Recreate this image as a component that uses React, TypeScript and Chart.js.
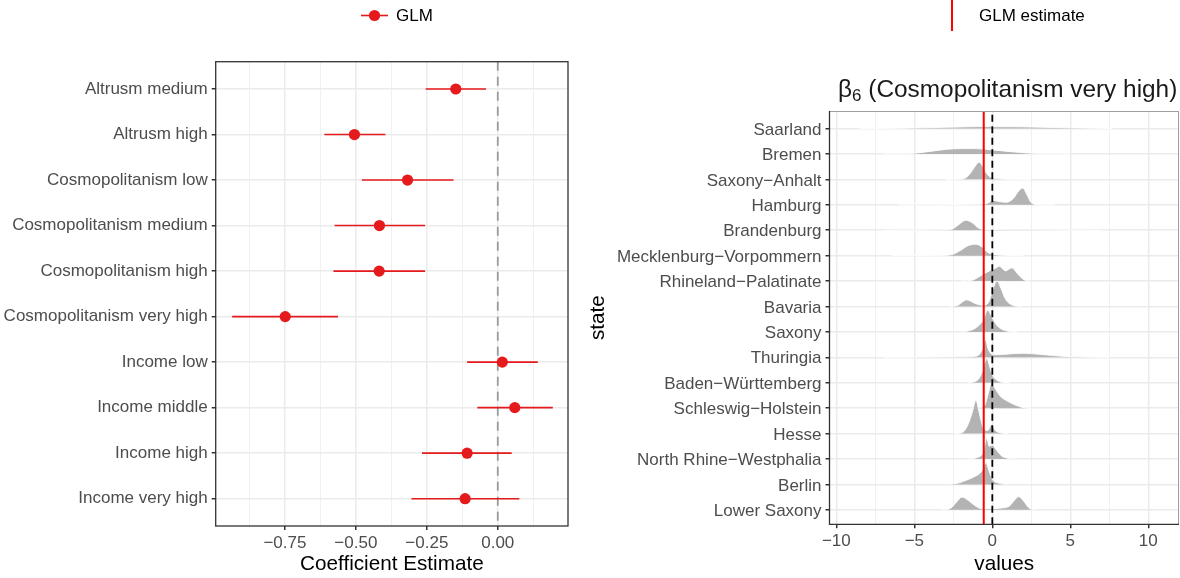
import React, { useEffect, useRef } from "react";
import { Chart, registerables } from "chart.js";
Chart.register(...registerables);

const FONT = "'Liberation Sans', Arial, Helvetica, sans-serif";
Chart.defaults.font.family = FONT;

// ---------- Left panel: GLM coefficients ----------
const terms = [
  "Altrusm medium",
  "Altrusm high",
  "Cosmopolitanism low",
  "Cosmopolitanism medium",
  "Cosmopolitanism high",
  "Cosmopolitanism very high",
  "Income low",
  "Income middle",
  "Income high",
  "Income very high",
];
const estimates = [-0.148, -0.505, -0.318, -0.417, -0.418, -0.749, 0.016, 0.06, -0.108, -0.115];
const ciLow = [-0.254, -0.611, -0.479, -0.575, -0.579, -0.936, -0.108, -0.072, -0.267, -0.304];
const ciHigh = [-0.041, -0.396, -0.156, -0.256, -0.256, -0.563, 0.141, 0.194, 0.049, 0.076];
const coefMajorTicks = [-0.75, -0.5, -0.25, 0];
const coefMinorTicks = [-0.875, -0.625, -0.375, -0.125, 0.125];
const coefMin = -0.994;
const coefMax = 0.2475;

// ---------- Right panel: posterior ridges per state ----------
const states = [
  "Saarland",
  "Bremen",
  "Saxony\u2212Anhalt",
  "Hamburg",
  "Brandenburg",
  "Mecklenburg\u2212Vorpommern",
  "Rhineland\u2212Palatinate",
  "Bavaria",
  "Saxony",
  "Thuringia",
  "Baden\u2212W\u00fcrttemberg",
  "Schleswig\u2212Holstein",
  "Hesse",
  "North Rhine\u2212Westphalia",
  "Berlin",
  "Lower Saxony",
];
// [value, height in row units]
const ridgeSaarland = [[-8.5, 0], [-6, 0.01], [-4.5, 0.03], [-3, 0.05], [-1.5, 0.07], [-0.5, 0.08], [0.5, 0.07], [1.5, 0.07], [2.5, 0.06], [4, 0.04], [5.5, 0.02], [7.7, 0]];
const ridgeBremen = [[-7, 0], [-6, 0.01], [-5, 0.03], [-4, 0.1], [-3, 0.18], [-2, 0.21], [-1, 0.21], [0, 0.16], [1, 0.1], [2.2, 0.04], [3.5, 0.01], [5, 0]];
const ridgeSaxonyAnhalt = [[-3, 0], [-2, 0.01], [-1.7, 0.06], [-1.4, 0.25], [-1.1, 0.52], [-0.85, 0.68], [-0.6, 0.5], [-0.35, 0.22], [-0.1, 0.08], [0.3, 0.03], [1, 0.005], [2.5, 0]];
const ridgeHamburg = [[-6, 0], [-3, 0.01], [-1, 0.02], [-0.3, 0.06], [0.05, 0.18], [0.4, 0.13], [0.9, 0.1], [1.35, 0.25], [1.7, 0.55], [1.95, 0.66], [2.2, 0.42], [2.5, 0.08], [2.9, 0.01], [4, 0]];
const ridgeBrandenburg = [[-7, 0], [-3.2, 0.01], [-2.6, 0.04], [-2.2, 0.2], [-1.7, 0.39], [-1.3, 0.3], [-0.9, 0.09], [-0.5, 0.03], [0.5, 0.02], [3, 0.01], [7, 0]];
const ridgeMecklenburg = [[-6.5, 0], [-3.2, 0.01], [-2.6, 0.04], [-2.0, 0.22], [-1.6, 0.38], [-1.1, 0.45], [-0.7, 0.36], [-0.3, 0.13], [0.1, 0.04], [0.9, 0.01], [2, 0]];
const ridgeRhineland = [[-2, 0], [-1.3, 0.03], [-0.9, 0.15], [-0.5, 0.3], [-0.1, 0.42], [0.2, 0.5], [0.45, 0.58], [0.85, 0.4], [1.25, 0.52], [1.6, 0.3], [2.0, 0.06], [2.4, 0]];
const ridgeBavaria = [[-2.7, 0], [-2.2, 0.05], [-1.65, 0.26], [-1.1, 0.12], [-0.6, 0.05], [-0.25, 0.15], [0.05, 0.7], [0.3, 1.0], [0.55, 0.72], [0.85, 0.28], [1.3, 0.05], [1.9, 0]];
const ridgeSaxony = [[-2, 0], [-1.5, 0.04], [-1.0, 0.18], [-0.6, 0.45], [-0.3, 0.85], [0, 0.55], [0.3, 0.25], [0.7, 0.08], [1.2, 0.01], [1.6, 0]];
const ridgeThuringia = [[-7, 0], [-4, 0.01], [-2, 0.02], [-1, 0.05], [-0.65, 0.3], [-0.45, 0.7], [-0.25, 0.3], [0.1, 0.1], [0.6, 0.11], [1.2, 0.14], [2, 0.16], [3, 0.12], [4.5, 0.04], [6, 0.01], [7.5, 0]];
const ridgeBadenWuerttemberg = [[-1.6, 0], [-1.0, 0.08], [-0.7, 0.35], [-0.45, 0.85], [-0.35, 0.96], [-0.2, 0.7], [0, 0.3], [0.3, 0.1], [0.6, 0.02], [1.1, 0]];
const ridgeSchleswigHolstein = [[-1, 0], [-0.5, 0.1], [-0.25, 0.6], [-0.05, 1.0], [0.2, 0.75], [0.5, 0.48], [0.9, 0.3], [1.3, 0.17], [1.7, 0.07], [2.1, 0.01], [2.5, 0]];
const ridgeHesse = [[-2.4, 0], [-1.9, 0.05], [-1.6, 0.3], [-1.3, 0.8], [-1.05, 1.31], [-0.85, 0.85], [-0.6, 0.25], [-0.3, 0.12], [-0.05, 0.35], [0.2, 0.12], [0.6, 0.02], [1, 0]];
const ridgeNRW = [[-1.6, 0], [-1.0, 0.05], [-0.6, 0.25], [-0.35, 0.82], [-0.2, 0.5], [0, 0.55], [0.2, 0.4], [0.6, 0.12], [1.0, 0.03], [1.5, 0]];
const ridgeBerlin = [[-2.8, 0], [-2.2, 0.05], [-1.6, 0.18], [-1.1, 0.32], [-0.7, 0.5], [-0.4, 0.85], [-0.25, 0.6], [0, 0.2], [0.4, 0.05], [0.9, 0]];
const ridgeLowerSaxony = [[-3.2, 0], [-2.7, 0.05], [-2.3, 0.3], [-1.95, 0.5], [-1.5, 0.35], [-1.0, 0.12], [-0.6, 0.04], [0, 0.05], [0.6, 0.07], [1.1, 0.15], [1.45, 0.4], [1.7, 0.52], [2.0, 0.35], [2.4, 0.05], [2.8, 0]];
const ridges = [
  ridgeSaarland, ridgeBremen, ridgeSaxonyAnhalt, ridgeHamburg, ridgeBrandenburg, ridgeMecklenburg,
  ridgeRhineland, ridgeBavaria, ridgeSaxony, ridgeThuringia, ridgeBadenWuerttemberg,
  ridgeSchleswigHolstein, ridgeHesse, ridgeNRW, ridgeBerlin, ridgeLowerSaxony,
];
const glmEstimate = -0.55;
const valueMajorTicks = [-10, -5, 0, 5, 10];
const valueMinorTicks = [-7.5, -2.5, 2.5, 7.5];
const valueMin = -10.44;
const valueMax = 11.97;
const stateMin = 0.43;
const stateMax = 16.69;

const W = 1180;
const H = 578;
const LEFT_W = 586;
const RIGHT_X = 586;
const RIGHT_W = W - RIGHT_X;

const TICK_FONT = 17;
const TITLE_FONT = 20.7;
const GRID = "#EBEBEB";
const DARK = "#333333";
const TXT = "#4D4D4D";

function fmtSigned(v: number, digits: number) {
  const s = Math.abs(v).toFixed(digits);
  return v < 0 ? "\u2212" + s : s;
}

function LeftChart() {
  const ref = useRef<HTMLCanvasElement>(null);
  useEffect(() => {
    const canvas = ref.current!;
    const red = "#E41A1C";
    const n = terms.length;
    const datasets: any[] = [
      {
        label: "GLM",
        data: estimates.map((e, i) => ({ x: e, y: i + 1 })),
        showLine: false,
        pointRadius: 5.6,
        pointBackgroundColor: red,
        pointBorderColor: red,
        pointBorderWidth: 0,
      },
      ...terms.map((t, i) => ({
        label: "CI " + t,
        data: [
          { x: ciLow[i], y: i + 1 },
          { x: ciHigh[i], y: i + 1 },
        ],
        showLine: true,
        borderColor: red,
        borderWidth: 1.6,
        pointRadius: 0,
      })),
      {
        label: "zero",
        data: [
          { x: 0, y: 0.4 },
          { x: 0, y: n + 0.6 },
        ],
        showLine: true,
        borderColor: "#9A9A9A",
        borderWidth: 1.8,
        borderDash: [9, 6],
        pointRadius: 0,
      },
    ];
    const panelPlugin = {
      id: "leftPanel",
      afterDraw(chart: any) {
        const { ctx, chartArea: a } = chart;
        ctx.save();
        ctx.strokeStyle = DARK;
        ctx.lineWidth = 1.3;
        ctx.strokeRect(a.left, a.top, a.right - a.left, a.bottom - a.top);
        // legend
        ctx.strokeStyle = red;
        ctx.lineWidth = 1.6;
        ctx.beginPath();
        ctx.moveTo(361, 15.5);
        ctx.lineTo(388, 15.5);
        ctx.stroke();
        ctx.fillStyle = red;
        ctx.beginPath();
        ctx.arc(374.5, 15.5, 5.6, 0, Math.PI * 2);
        ctx.fill();
        ctx.fillStyle = "#000";
        ctx.font = `${TICK_FONT}px ${FONT}`;
        ctx.textBaseline = "middle";
        ctx.textAlign = "left";
        ctx.fillText("GLM", 396, 16);
        ctx.restore();
      },
    };
    const chart = new Chart(canvas, {
      type: "scatter",
      data: { datasets },
      options: {
        responsive: false,
        animation: false,
        devicePixelRatio: 1,
        events: [],
        layout: { padding: { left: 0, right: 18, top: 61.7, bottom: 0 } },
        plugins: { legend: { display: false }, tooltip: { enabled: false } },
        scales: {
          x: {
            type: "linear",
            min: coefMin,
            max: coefMax,
            afterBuildTicks: (s: any) => {
              s.ticks = [...coefMajorTicks, ...coefMinorTicks]
                .sort((a, b) => a - b)
                .map((v) => ({ value: v }));
            },
            afterFit: (s: any) => {
              s.height = 52;
            },
            ticks: {
              autoSkip: false,
              maxRotation: 0,
              color: TXT,
              padding: 3,
              font: { size: TICK_FONT },
              callback: (v: any) => (coefMajorTicks.includes(v) ? fmtSigned(v, 2) : ""),
            },
            grid: {
              color: GRID,
              lineWidth: (c: any) => (coefMajorTicks.includes(c.tick?.value) ? 1.5 : 0.75),
              tickColor: (c: any) => (coefMajorTicks.includes(c.tick?.value) ? DARK : "rgba(0,0,0,0)"),
              tickLength: 4,
            },
            border: { display: false },
            title: {
              display: true,
              text: "Coefficient Estimate",
              color: "#000",
              font: { size: TITLE_FONT },
              padding: { top: 0, bottom: 1 },
            },
          },
          y: {
            type: "linear",
            reverse: true,
            min: 0.4,
            max: n + 0.6,
            afterBuildTicks: (s: any) => {
              s.ticks = terms.map((_, i) => ({ value: i + 1 }));
            },
            afterFit: (s: any) => {
              s.width = 215.7;
            },
            ticks: {
              autoSkip: false,
              color: TXT,
              padding: 4,
              font: { size: TICK_FONT },
              callback: (v: any) => terms[v - 1],
            },
            grid: { color: GRID, lineWidth: 1.5, tickColor: DARK, tickLength: 4 },
            border: { display: false },
          },
        },
      } as any,
      plugins: [panelPlugin],
    });
    return () => chart.destroy();
  }, []);
  return (
    <canvas
      ref={ref}
      width={LEFT_W}
      height={H}
      style={{ position: "absolute", left: 0, top: 0, width: LEFT_W, height: H, display: "block" }}
    />
  );
}

function RightChart() {
  const ref = useRef<HTMLCanvasElement>(null);
  useEffect(() => {
    const canvas = ref.current!;
    const nS = states.length;
    const ridgeSets = states.map((s, i) => {
      const base = nS - i;
      return {
        label: s,
        data: ridges[i].map(([x, h]) => ({ x, y: base + h })),
        showLine: true,
        fill: { value: base },
        backgroundColor: "#B3B3B3",
        borderColor: "#FFFFFF",
        borderWidth: 0.9,
        pointRadius: 0,
        cubicInterpolationMode: "monotone",
      };
    });
    const datasets: any[] = [
      {
        label: "GLM estimate",
        data: [
          { x: glmEstimate, y: stateMin },
          { x: glmEstimate, y: stateMax },
        ],
        showLine: true,
        borderColor: "#FF0000",
        borderWidth: 2,
        pointRadius: 0,
      },
      {
        label: "zero",
        data: [
          { x: 0, y: stateMin },
          { x: 0, y: stateMax },
        ],
        showLine: true,
        borderColor: "#000000",
        borderWidth: 1.8,
        borderDash: [7, 4.5],
        pointRadius: 0,
      },
      ...ridgeSets.reverse(),
    ];
    const panelPlugin = {
      id: "rightPanel",
      afterDraw(chart: any) {
        const { ctx, chartArea: a } = chart;
        ctx.save();
        ctx.lineWidth = 1;
        ctx.strokeStyle = "#A0A0A0";
        ctx.beginPath();
        ctx.moveTo(a.left, a.top + 0.5);
        ctx.lineTo(a.right, a.top + 0.5);
        ctx.moveTo(a.right - 0.5, a.top);
        ctx.lineTo(a.right - 0.5, a.bottom);
        ctx.stroke();
        ctx.strokeStyle = DARK;
        ctx.lineWidth = 1.3;
        ctx.beginPath();
        ctx.moveTo(a.left, a.top);
        ctx.lineTo(a.left, a.bottom);
        ctx.lineTo(a.right, a.bottom);
        ctx.stroke();
        // legend
        ctx.strokeStyle = "#FF0000";
        ctx.lineWidth = 2;
        ctx.beginPath();
        ctx.moveTo(952 - RIGHT_X, 0);
        ctx.lineTo(952 - RIGHT_X, 31);
        ctx.stroke();
        ctx.fillStyle = "#000";
        ctx.font = `${TICK_FONT}px ${FONT}`;
        ctx.textBaseline = "middle";
        ctx.textAlign = "left";
        ctx.fillText("GLM estimate", 979 - RIGHT_X, 16);
        // plot title: beta_6 (Cosmopolitanism very high)
        const tx = 838 - RIGHT_X;
        const ty = 97;
        ctx.fillStyle = "#1A1A1A";
        ctx.textBaseline = "alphabetic";
        ctx.font = `24.4px ${FONT}`;
        ctx.fillText("\u03b2", tx, ty);
        const bw = ctx.measureText("\u03b2").width;
        ctx.font = `17px ${FONT}`;
        ctx.fillText("6", tx + bw, ty + 4);
        const sw = ctx.measureText("6").width;
        ctx.font = `24.4px ${FONT}`;
        ctx.fillText(" (Cosmopolitanism very high)", tx + bw + sw, ty);
        ctx.restore();
      },
    };
    const chart = new Chart(canvas, {
      type: "scatter",
      data: { datasets },
      options: {
        responsive: false,
        animation: false,
        devicePixelRatio: 1,
        events: [],
        layout: { padding: { left: 0, right: 1, top: 111, bottom: 0 } },
        plugins: { legend: { display: false }, tooltip: { enabled: false } },
        scales: {
          x: {
            type: "linear",
            min: valueMin,
            max: valueMax,
            afterBuildTicks: (s: any) => {
              s.ticks = [...valueMajorTicks, ...valueMinorTicks]
                .sort((a, b) => a - b)
                .map((v) => ({ value: v }));
            },
            afterFit: (s: any) => {
              s.height = 53.7;
            },
            ticks: {
              autoSkip: false,
              maxRotation: 0,
              color: TXT,
              padding: 3,
              font: { size: TICK_FONT },
              callback: (v: any) => (valueMajorTicks.includes(v) ? fmtSigned(v, 0) : ""),
            },
            grid: {
              color: GRID,
              lineWidth: (c: any) => (valueMajorTicks.includes(c.tick?.value) ? 1.5 : 0.75),
              tickColor: (c: any) => (valueMajorTicks.includes(c.tick?.value) ? DARK : "rgba(0,0,0,0)"),
              tickLength: 4,
            },
            border: { display: false },
            title: {
              display: true,
              text: "values",
              color: "#000",
              font: { size: TITLE_FONT },
              padding: { top: 0, bottom: 1 },
            },
          },
          y: {
            type: "linear",
            min: stateMin,
            max: stateMax,
            afterBuildTicks: (s: any) => {
              s.ticks = states.map((_, i) => ({ value: i + 1 }));
            },
            afterFit: (s: any) => {
              s.width = 829.5 - RIGHT_X;
            },
            ticks: {
              autoSkip: false,
              color: TXT,
              padding: 4,
              labelOffset: 1.5,
              font: { size: TICK_FONT },
              callback: (v: any) => states[nS - v],
            },
            grid: { color: GRID, lineWidth: 1.5, tickColor: DARK, tickLength: 4 },
            border: { display: false },
            title: {
              display: true,
              text: "state",
              color: "#000",
              font: { size: TITLE_FONT },
              padding: { top: 0, bottom: 0 },
            },
          },
        },
      } as any,
      plugins: [panelPlugin],
    });
    return () => chart.destroy();
  }, []);
  return (
    <canvas
      ref={ref}
      width={RIGHT_W}
      height={H}
      style={{ position: "absolute", left: RIGHT_X, top: 0, width: RIGHT_W, height: H, display: "block" }}
    />
  );
}

export default function App() {
  return (
    <div
      style={{
        position: "fixed",
        left: 0,
        top: 0,
        width: W,
        height: H,
        background: "#FFFFFF",
        overflow: "hidden",
      }}
    >
      <LeftChart />
      <RightChart />
    </div>
  );
}
